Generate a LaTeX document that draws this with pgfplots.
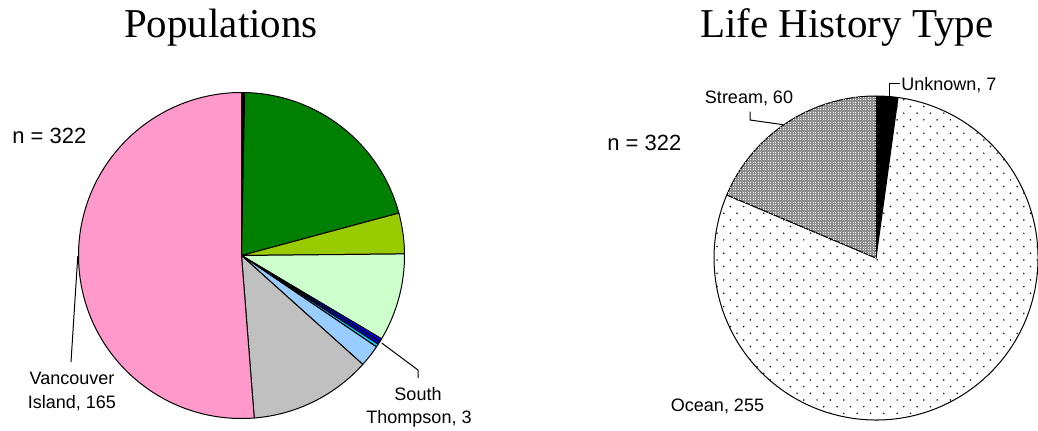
\documentclass[border=0pt]{standalone}
\usepackage{pgfplots}
\pgfplotsset{compat=1.18}
\usepackage{pgfplotstable}
\usetikzlibrary{patterns}
\usepackage{fontspec}
\setmainfont{Liberation Sans}
\newfontfamily\titlefont{Liberation Serif}

\definecolor{cgreen}{HTML}{008000}
\definecolor{cyg}{HTML}{99CC00}
\definecolor{clgreen}{HTML}{CCFFCC}
\definecolor{cblueA}{HTML}{0000FF}
\definecolor{cblueB}{HTML}{0000DD}
\definecolor{ccyan}{HTML}{00CCFF}
\definecolor{clblue}{HTML}{99CCFF}
\definecolor{cgrey}{HTML}{C0C0C0}
\definecolor{cpink}{HTML}{FF99CC}
\definecolor{cstream}{HTML}{8E8E8E}

\pgfdeclarepatternformonly{oceandots}{\pgfqpoint{-1pt}{-1pt}}{\pgfqpoint{7.67pt}{7.67pt}}{\pgfqpoint{6.67pt}{6.67pt}}{%
  \pgfpathcircle{\pgfqpoint{1.67pt}{1.67pt}}{0.42pt}%
  \pgfpathcircle{\pgfqpoint{5pt}{5pt}}{0.42pt}%
  \pgfusepath{fill}}
\pgfdeclarepatternformonly{streammesh}{\pgfqpoint{-0.5pt}{-0.5pt}}{\pgfqpoint{1.75pt}{1.75pt}}{\pgfqpoint{1.25pt}{1.25pt}}{%
  \pgfpathrectangle{\pgfqpoint{0pt}{0pt}}{\pgfqpoint{0.5pt}{0.5pt}}%
  \pgfusepath{fill}}

\tikzset{
  sblack/.style={fill=black},
  sgreen/.style={fill=cgreen},
  syg/.style={fill=cyg},
  slgreen/.style={fill=clgreen},
  sblueA/.style={fill=cblueA},
  sblueB/.style={fill=cblueB},
  scyan/.style={fill=ccyan},
  slblue/.style={fill=clblue},
  sgrey/.style={fill=cgrey},
  spink/.style={fill=cpink},
  sunknown/.style={fill=black},
  socean/.style={fill=white, postaction={pattern=oceandots, pattern color=black}},
  sstream/.style={fill=cstream, postaction={pattern=streammesh, pattern color=white}},
}

% Populations (clockwise from 12 o'clock)
\pgfplotstableread{
count style
1   sblack
66  sgreen
13  syg
28  slgreen
1   sblueA
1   sblueB
1   scyan
7   slblue
39  sgrey
165 spink
}\popdata

% Life history type (clockwise from 12 o'clock)
\pgfplotstableread{
count style
7   sunknown
255 socean
60  sstream
}\lifedata

\newcommand\buildpie[6]{%
  \pgfplotstablegetrowsof{#1}%
  \pgfmathtruncatemacro\nrows{\pgfplotsretval-1}%
  \gdef#2{}%
  \gdef\cum{0}%
  \pgfplotsforeachungrouped \i in {0,...,\nrows}{%
    \pgfplotstablegetelem{\i}{count}\of#1\let\cnt\pgfplotsretval
    \pgfplotstablegetelem{\i}{style}\of#1\let\col\pgfplotsretval
    \pgfmathsetmacro\sa{90-(\cum/#6)*360}%
    \pgfmathsetmacro\newcum{\cum+\cnt}%
    \pgfmathsetmacro\ea{90-(\newcum/#6)*360}%
    \xdef\cum{\newcum}%
    \xdef#2{\unexpanded\expandafter{#2}\noexpand\filldraw[\col,draw=black,line width=0.5pt,line join=round] (axis cs:#3,#4) -- ++(\sa:#5) arc[start angle=\sa,end angle=\ea,radius=#5] -- cycle;}%
  }}

\buildpie{\popdata}{\popwedges}{241.5}{174.5}{81.5pt}{322}
\buildpie{\lifedata}{\lifewedges}{876}{172}{81pt}{322}

\begin{document}
\begin{tikzpicture}
\begin{axis}[x=0.5pt, y=0.5pt, xmin=0, xmax=1038, ymin=0, ymax=430,
  hide axis, clip=false]
\popwedges
\lifewedges
% titles
\node[anchor=base, inner sep=0pt, font=\titlefont\fontsize{20.5}{24}\selectfont] at (axis cs:221,392.5) {Populations};
\node[anchor=base, inner sep=0pt, font=\titlefont\fontsize{20.5}{24}\selectfont] at (axis cs:847,392.5) {Life History Type};
% n labels
\node[anchor=base west, inner sep=0pt, font=\fontsize{11}{13}\selectfont] at (axis cs:12,287) {n = 322};
\node[anchor=base west, inner sep=0pt, font=\fontsize{11}{13}\selectfont] at (axis cs:607,280) {n = 322};
% populations labels
\draw[line width=0.5pt] (axis cs:71,68) -- (axis cs:77.8,174);
\node[anchor=base, inner sep=0pt, font=\fontsize{9}{11}\selectfont] at (axis cs:72,46) {Vancouver};
\node[anchor=base, inner sep=0pt, font=\fontsize{9}{11}\selectfont] at (axis cs:72,22) {Island, 165};
\draw[line width=0.5pt] (axis cs:381.7,87) -- (axis cs:418,60) -- (axis cs:418,52);
\node[anchor=base, inner sep=0pt, font=\fontsize{9}{11}\selectfont] at (axis cs:418,30) {South};
\node[anchor=base, inner sep=0pt, font=\fontsize{9}{11}\selectfont] at (axis cs:419,7) {Thompson, 3};
% life history labels
\draw[line width=0.5pt] (axis cs:750,318.3) -- (axis cs:750,310) -- (axis cs:783.3,305.3);
\node[anchor=base, inner sep=0pt, font=\fontsize{9}{11}\selectfont] at (axis cs:749,327) {Stream, 60};
\draw[line width=0.5pt] (axis cs:900,346.7) -- (axis cs:889,346.7) -- (axis cs:889,333.8);
\node[anchor=base west, inner sep=0pt, font=\fontsize{9}{11}\selectfont] at (axis cs:901,340) {Unknown, 7};
\node[anchor=base, inner sep=0pt, font=\fontsize{9}{11}\selectfont] at (axis cs:717.5,19) {Ocean, 255};
\end{axis}
\pgfresetboundingbox
\path[use as bounding box] (current axis.south west) rectangle (current axis.north east);
\end{tikzpicture}
\end{document}
